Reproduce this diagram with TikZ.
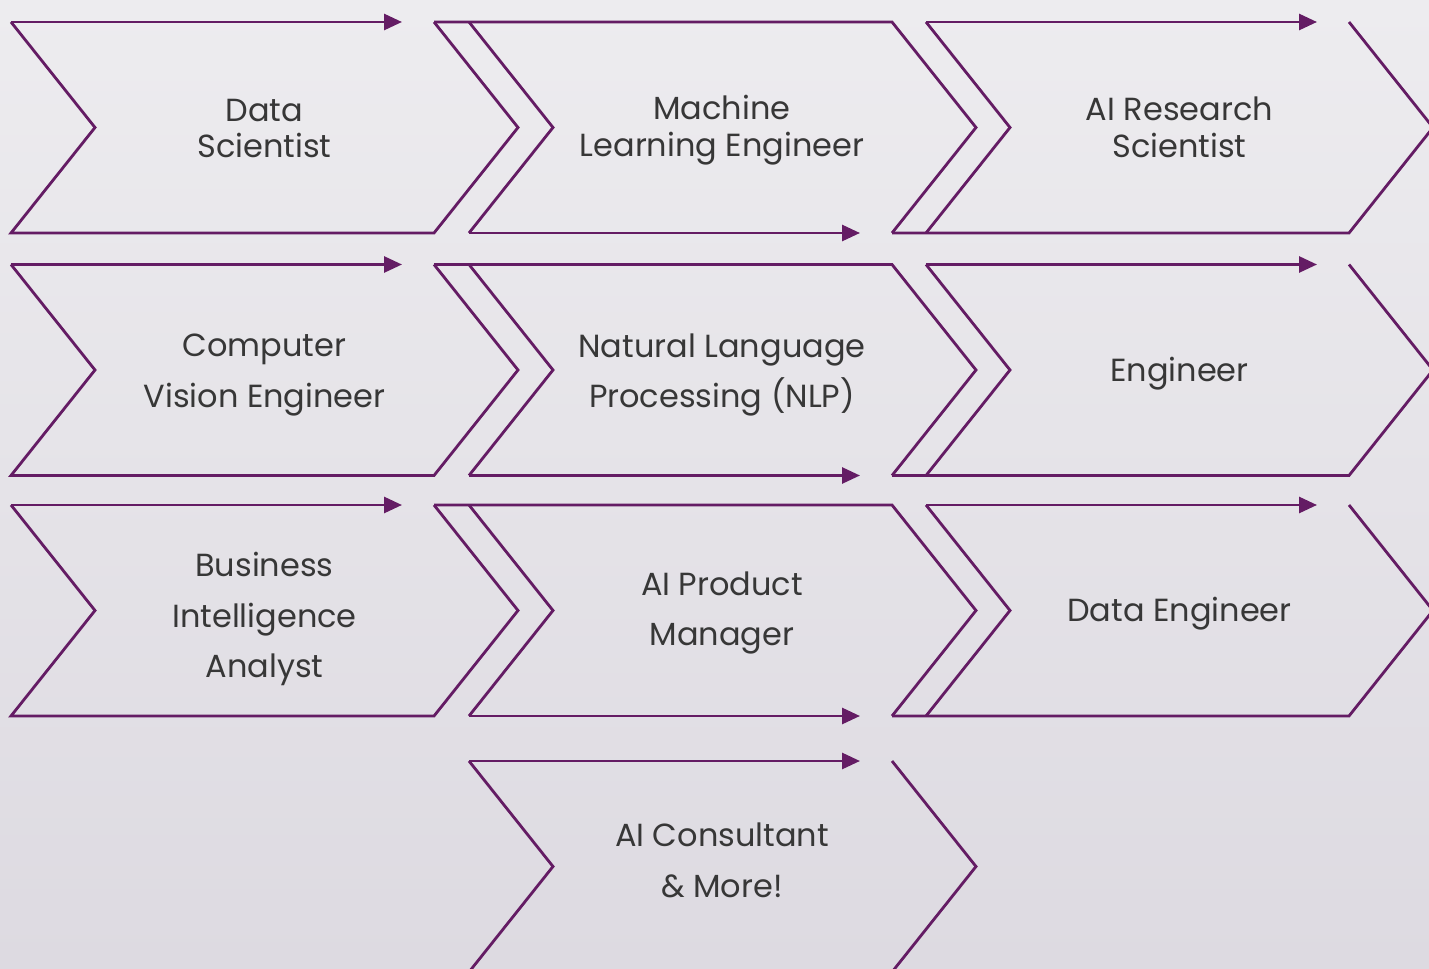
\documentclass[tikz,border=0pt]{standalone}
\usepackage{fontspec}
\setmainfont{Poppins}
\usetikzlibrary{arrows.meta}
\definecolor{chevron}{RGB}{100,28,100}
\definecolor{labeltext}{RGB}{55,55,55}
\definecolor{bgtop}{RGB}{237,236,239}
\definecolor{bgbottom}{RGB}{221,218,225}

\begin{document}
\begin{tikzpicture}[x=0.02cm, y=-0.02cm,
		edge/.style={draw=chevron, line width=1.6pt, line join=miter},
		flow/.style={edge, -{Triangle[length=3.6mm, width=3.2mm]}},
		role/.style={text=labeltext, align=center, font=\fontsize{18.2}{29}\selectfont},
		tight/.style={font=\fontsize{18.2}{21}\selectfont}]
	\useasboundingbox (0,0) rectangle (1429,969);
	\clip (0,0) rectangle (1429,969);
	\fill[top color=bgtop, bottom color=bgbottom] (0,0) rectangle (1429,969);

	% row 1
	\draw[edge] (434,22) -- (518,127.5) -- (434,233) -- (11,233) -- (95,127.5) -- (11,22);
	\draw[flow] (11,22) -- (402,22);
	\draw[edge] (434,22) -- (892,22) -- (976,127.5) -- (892,233);
	\draw[edge] (469,22) -- (553,127.5) -- (469,233);
	\draw[flow] (469,233) -- (860,233);
	\draw[edge] (892,233) -- (1349,233) -- (1433,127.5) -- (1349,22);
	\draw[edge] (926,22) -- (1010,127.5) -- (926,233);
	\draw[flow] (926,22) -- (1317,22);
	\node[role, tight] (datasci) at (264.5,128.5) {Data\\Scientist};
	\node[role, tight] (mleng) at (722,130) {Machine\\Learning Engineer};
	\node[role, tight] (aires) at (1179.5,127) {AI Research\\Scientist};

	% row 2
	\draw[edge] (434,264.5) -- (518,370) -- (434,475.5) -- (11,475.5) -- (95,370) -- (11,264.5);
	\draw[flow] (11,264.5) -- (402,264.5);
	\draw[edge] (434,264.5) -- (892,264.5) -- (976,370) -- (892,475.5);
	\draw[edge] (469,264.5) -- (553,370) -- (469,475.5);
	\draw[flow] (469,475.5) -- (860,475.5);
	\draw[edge] (892,475.5) -- (1349,475.5) -- (1433,370) -- (1349,264.5);
	\draw[edge] (926,264.5) -- (1010,370) -- (926,475.5);
	\draw[flow] (926,264.5) -- (1317,264.5);
	\node[role] (cveng) at (264.5,375) {Computer\\Vision Engineer};
	\node[role] (nlp) at (722,375) {Natural Language\\Processing (NLP)};
	\node[role] (eng) at (1179.5,374) {Engineer};

	% row 3
	\draw[edge] (434,505) -- (518,610.5) -- (434,716) -- (11,716) -- (95,610.5) -- (11,505);
	\draw[flow] (11,505) -- (402,505);
	\draw[edge] (434,505) -- (892,505) -- (976,610.5) -- (892,716);
	\draw[edge] (469,505) -- (553,610.5) -- (469,716);
	\draw[flow] (469,716) -- (860,716);
	\draw[edge] (892,716) -- (1349,716) -- (1433,610.5) -- (1349,505);
	\draw[edge] (926,505) -- (1010,610.5) -- (926,716);
	\draw[flow] (926,505) -- (1317,505);
	\node[role] (bianalyst) at (264.5,619) {Business\\Intelligence\\Analyst};
	\node[role] (aipm) at (722,613) {AI Product\\Manager};
	\node[role] (dataeng) at (1179.5,614) {Data Engineer};

	% row 4
	\draw[edge] (892,761) -- (976,866.5) -- (892,972) -- (469,972) -- (553,866.5) -- (469,761);
	\draw[flow] (469,761) -- (860,761);
	\node[role] (consult) at (722,860) {AI Consultant\\\& More!};
\end{tikzpicture}
\end{document}
